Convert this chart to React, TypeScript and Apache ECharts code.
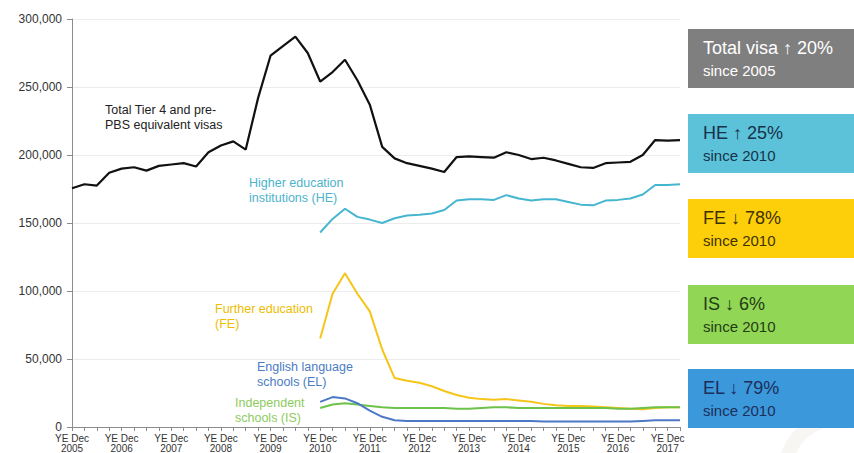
import React, { useEffect, useRef } from "react";
import * as echarts from "echarts";

const monthNames = ["Dec", "Mar", "Jun", "Sep"];
const quarters: string[] = [];
for (let i = 0; i < 50; i++) {
  const m = monthNames[i % 4];
  const year = 2005 + Math.ceil(i / 4);
  quarters.push(`YE ${m} ${year}`);
}

const totalVisas = [
  175500, 178500, 177500, 187000, 190000, 191000, 188500, 192000, 193000, 194000,
  191500, 202000, 207000, 210000, 204000, 242000, 273000, 280000, 287000, 275000,
  254000, 261000, 270000, 255000, 237000, 206000, 197500, 194000, 192000, 190000,
  187500, 198500, 199000, 198500, 198000, 202000, 200000, 197000, 198000, 196000,
  193500, 191000, 190500, 194000, 194500, 195000, 200000, 211000, 210500, 211000,
];

const N20 = Array(20).fill(null);

const heVisas = [
  ...N20,
  143000, 153000, 160500, 154500, 152500, 150000, 153500, 155500, 156000, 157000,
  159500, 166500, 167500, 167500, 167000, 170500, 168000, 166500, 167500, 167500,
  165500, 163500, 163000, 166500, 167000, 168000, 171000, 178000, 178000, 178500,
];

const feVisas = [
  ...N20,
  65000, 98000, 113000, 98000, 85000, 57000, 36000, 34000, 32500, 30000,
  26500, 23500, 21500, 20500, 20000, 20500, 19500, 18500, 17000, 16000,
  15500, 15500, 15000, 14500, 14000, 13500, 13000, 14000, 14500, 14500,
];

const isVisas = [
  ...N20,
  14000, 16500, 17500, 16500, 15500, 14500, 14000, 14000, 14000, 14000,
  14000, 13500, 13500, 14000, 14500, 14500, 14000, 14000, 14000, 14000,
  14000, 14000, 14000, 14000, 13500, 13500, 14000, 14500, 14500, 14500,
];

const elVisas = [
  ...N20,
  18500, 22000, 21000, 17500, 12000, 7500, 5000, 4500, 4500, 4500,
  4500, 4500, 4500, 4500, 4500, 4500, 4500, 4500, 4000, 4000,
  4000, 4000, 4000, 4000, 4000, 4000, 4500, 5000, 5000, 5000,
];

const yTicks = { min: 0, max: 300000, interval: 50000 };

const FONT = "'Liberation Sans', Arial, sans-serif";

export default function App() {
  const ref = useRef<HTMLDivElement>(null);
  useEffect(() => {
    if (!ref.current) return;
    const chart = echarts.init(ref.current, undefined, { renderer: "svg" });
    const line = (name: string, data: (number | null)[], color: string, w = 2) => ({
      name,
      type: "line",
      data,
      symbol: "none",
      connectNulls: false,
      lineStyle: { color, width: w },
      itemStyle: { color },
    });
    const annot = (text: string, left: number, top: number, color: string) => ({
      type: "text",
      left,
      top,
      style: { text, fill: color, fontSize: 12.5, fontFamily: FONT, lineHeight: 15.5 },
    });
    const box = (y: number, color: string, t1: string, t2: string, tc: string) => [
      { type: "rect", shape: { x: 688, y, width: 170, height: 59 }, style: { fill: color } },
      {
        type: "text",
        x: 703,
        y: y + 19,
        style: { text: t1, fill: tc, fontSize: 18, fontFamily: FONT, textVerticalAlign: "middle" },
      },
      {
        type: "text",
        x: 703,
        y: y + 41,
        style: { text: t2, fill: tc, fontSize: 15, fontFamily: FONT, textVerticalAlign: "middle" },
      },
    ];
    chart.setOption({
      animation: false,
      backgroundColor: "#ffffff",
      grid: {
        left: 72,
        right: 174,
        top: 19,
        bottom: 26,
        containLabel: false,
        outerBoundsMode: "none",
      },
      xAxis: {
        type: "category",
        data: quarters,
        boundaryGap: false,
        axisLine: { lineStyle: { color: "#8c8c8c", width: 1 } },
        axisTick: { interval: 0, length: 4, lineStyle: { color: "#8c8c8c" } },
        axisLabel: {
          interval: 3,
          margin: 6,
          color: "#333",
          fontSize: 10,
          fontFamily: FONT,
          lineHeight: 10,
          formatter: (v: string) => v.replace(/^YE (\w+) /, "YE $1\n"),
        },
        splitLine: { show: false },
      },
      yAxis: {
        type: "value",
        min: yTicks.min,
        max: yTicks.max,
        interval: yTicks.interval,
        axisLine: { show: true, lineStyle: { color: "#8c8c8c", width: 1 } },
        axisTick: { show: true, length: 5, lineStyle: { color: "#8c8c8c" } },
        axisLabel: {
          color: "#333",
          fontSize: 12,
          lineHeight: 11,
          fontFamily: FONT,
          margin: 10,
          formatter: (v: number) => v.toLocaleString("en-US"),
        },
        splitLine: { lineStyle: { color: "#ececec", width: 1 } },
      },
      series: [
        line("Total", totalVisas, "#111111", 2.2),
        line("HE", heVisas, "#45b6cf"),
        line("FE", feVisas, "#f5c518"),
        line("IS", isVisas, "#6cc24a"),
        line("EL", elVisas, "#4d78c6"),
      ],
      graphic: [
        {
          type: "ring",
          shape: { cx: 838, cy: 472, r: 60, r0: 46 },
          style: { fill: "#f7f6f3" },
          z: -1,
        },
        annot("Total Tier 4 and pre-\nPBS equivalent visas", 105, 102, "#222222"),
        annot("Higher education\ninstitutions (HE)", 249, 175, "#4cb3cc"),
        annot("Further education\n(FE)", 215, 301, "#eebc00"),
        annot("English language\nschools (EL)", 257, 359, "#4a7cc4"),
        annot("Independent\nschools (IS)", 235, 395, "#8ccc5c"),
        ...box(29, "#7f7f7f", "Total visa ↑ 20%", "since 2005", "#ffffff"),
        ...box(114, "#5bc2d9", "HE ↑ 25%", "since 2010", "#17324a"),
        ...box(199, "#fdcf0a", "FE ↓ 78%", "since 2010", "#3e3200"),
        ...box(285, "#92d655", "IS ↓ 6%", "since 2010", "#1f3d14"),
        ...box(369, "#3b98db", "EL ↓ 79%", "since 2010", "#1c2e5a"),
      ],
    });
    return () => chart.dispose();
  }, []);
  return (
    <div
      ref={ref}
      style={{ position: "fixed", left: 0, top: 0, width: 854, height: 453 }}
    />
  );
}
